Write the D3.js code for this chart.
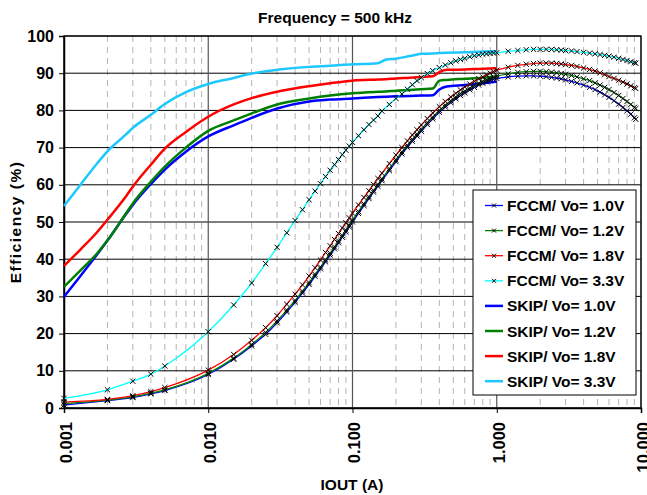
<!DOCTYPE html>
<html>
<head>
<meta charset="utf-8">
<script src="https://cdn.jsdelivr.net/npm/d3@7"></script>
<style>
	body { margin: 0; background: #fff; }
	svg { font-family: "Liberation Sans", Arial, sans-serif; font-weight: bold; }
</style>
</head>
<body>
<div class="container"></div>
<script>

// load current (A) of the forced-CCM sweep, shared by the four FCCM series
const fccmCurrent = [
	0.001, 0.002, 0.003, 0.004, 0.005,
	0.01, 0.015, 0.02, 0.025, 0.03, 0.035, 0.04, 0.045, 0.05, 0.055, 0.06, 0.065, 0.07, 0.075, 0.08, 0.085, 0.09, 0.095,
	0.1, 0.11, 0.12, 0.13, 0.14, 0.15, 0.16, 0.18, 0.2, 0.22, 0.24, 0.26, 0.28, 0.3, 0.33, 0.36, 0.4, 0.44, 0.48, 0.52, 0.56, 0.6, 0.65, 0.7, 0.75, 0.8, 0.85, 0.9, 0.95, 1.0,
	1.2, 1.4, 1.6, 1.8, 2.0, 2.2, 2.4, 2.6, 2.8, 3.0, 3.3, 3.6, 4.0, 4.4, 4.8, 5.2, 5.6, 6.0, 6.5, 7.0, 7.5, 8.0, 8.5, 9.0, 9.2
];

const fccm10 = [
	0.8, 2.0, 2.8, 3.8, 4.7,
	9.0, 13.1, 16.7, 19.8, 22.9, 25.8, 28.4, 30.9, 33.2, 35.4, 37.4, 39.3, 41.1, 42.8, 44.4, 45.9, 47.3, 48.7,
	50.0, 52.3, 54.4, 56.3, 58.0, 59.6, 61.1, 63.8, 66.2, 68.3, 70.1, 71.7, 73.1, 74.4, 76.2, 77.7, 79.5, 80.9, 82.1, 83.1, 84.0, 84.7, 85.5, 86.2, 86.8, 87.3, 87.7, 88.1, 88.4, 88.6,
	89.0, 89.2, 89.3, 89.3, 89.2, 89.1, 88.9, 88.7, 88.5, 88.2, 87.8, 87.4, 86.8, 86.2, 85.6, 84.9, 84.2, 83.5, 82.6, 81.7, 80.8, 79.9, 79.0, 78.0, 77.6
];

const fccm12 = [
	1.2, 2.1, 3.0, 4.0, 4.9,
	9.3, 13.4, 17.1, 20.3, 23.4, 26.3, 28.9, 31.4, 33.7, 35.9, 37.9, 39.8, 41.6, 43.3, 44.9, 46.4, 47.8, 49.2,
	50.5, 52.8, 54.9, 56.8, 58.5, 60.1, 61.6, 64.3, 66.7, 68.8, 70.6, 72.2, 73.6, 74.9, 76.7, 78.2, 80.0, 81.4, 82.6, 83.6, 84.5, 85.2, 86.0, 86.7, 87.3, 87.8, 88.2, 88.6, 88.9, 89.2,
	89.8, 90.2, 90.4, 90.5, 90.5, 90.4, 90.3, 90.1, 89.9, 89.7, 89.4, 89.0, 88.5, 88.0, 87.4, 86.8, 86.2, 85.6, 84.8, 84.0, 83.2, 82.4, 81.6, 80.8, 80.5
];

const fccm18 = [
	1.6, 2.3, 3.3, 4.4, 5.5,
	10.2, 14.4, 18.2, 21.6, 24.8, 27.9, 30.6, 33.1, 35.5, 37.7, 39.8, 41.8, 43.6, 45.3, 46.9, 48.4, 49.8, 51.1,
	52.4, 54.6, 56.6, 58.4, 60.1, 61.7, 63.1, 65.7, 68.0, 70.0, 71.8, 73.4, 74.8, 76.1, 77.8, 79.3, 81.0, 82.4, 83.6, 84.6, 85.5, 86.3, 87.1, 87.8, 88.5, 89.0, 89.5, 90.0, 90.4, 90.8,
	91.6, 92.1, 92.4, 92.6, 92.7, 92.7, 92.7, 92.6, 92.5, 92.3, 92.1, 91.8, 91.4, 91.0, 90.6, 90.1, 89.6, 89.1, 88.6, 88.1, 87.6, 87.1, 86.6, 86.1, 85.9
];

const fccm33 = [
	2.6, 4.9, 7.2, 9.1, 11.3,
	20.5, 27.7, 33.6, 38.8, 43.2, 47.1, 50.4, 53.3, 56.0, 58.3, 60.3, 62.2, 63.9, 65.4, 66.8, 68.1, 69.3, 70.4,
	71.4, 73.2, 74.8, 76.2, 77.4, 78.5, 79.8, 81.6, 83.2, 84.4, 85.7, 86.9, 88.0, 88.8, 89.9, 90.7, 91.5, 92.2, 92.8, 93.3, 93.7, 94.0, 94.4, 94.7, 94.9, 95.1, 95.2, 95.3, 95.4, 95.5,
	95.9, 96.1, 96.3, 96.4, 96.4, 96.4, 96.4, 96.3, 96.2, 96.1, 96.0, 95.8, 95.6, 95.4, 95.2, 95.0, 94.8, 94.6, 94.3, 94.0, 93.7, 93.4, 93.1, 92.8, 92.7
];

// load current (A) of the skip-mode sweep
const skipCurrent = [0.001, 0.0013, 0.0017, 0.002, 0.0027, 0.003, 0.004, 0.005, 0.007, 0.01, 0.015, 0.02, 0.03, 0.05, 0.07, 0.1, 0.15, 0.17, 0.2, 0.25, 0.3, 0.36, 0.4, 0.45, 0.6, 0.8, 1.0];

const skip10 = [29.9, 35.5, 41.3, 45.0, 52.2, 54.6, 60.2, 64.1, 68.9, 73.0, 76.0, 78.0, 80.5, 82.4, 82.9, 83.2, 83.6, 83.7, 83.8, 83.9, 84.0, 84.1, 85.6, 86.4, 86.8, 87.3, 87.7];
const skip12 = [32.6, 37.0, 41.6, 45.0, 52.4, 55.0, 60.8, 64.9, 70.0, 74.5, 77.3, 79.2, 81.6, 83.2, 84.0, 84.6, 85.0, 85.1, 85.3, 85.5, 85.7, 85.9, 88.0, 88.2, 88.5, 88.8, 89.1];
const skip18 = [38.2, 42.6, 47.3, 50.6, 57.0, 59.5, 65.4, 69.7, 74.2, 78.3, 81.6, 83.3, 85.0, 86.5, 87.3, 88.0, 88.3, 88.4, 88.6, 88.8, 89.0, 89.2, 90.3, 90.9, 91.0, 91.2, 91.3];
const skip33 = [54.3, 60.0, 65.8, 69.0, 73.6, 75.3, 78.8, 81.7, 84.9, 87.1, 88.7, 89.9, 90.9, 91.7, 92.0, 92.4, 92.7, 93.6, 93.9, 94.6, 95.2, 95.3, 95.4, 95.5, 95.6, 95.8, 95.9];

const seriesNames = [
	"FCCM/ Vo= 1.0V", "FCCM/ Vo= 1.2V", "FCCM/ Vo= 1.8V", "FCCM/ Vo= 3.3V",
	"SKIP/ Vo= 1.0V", "SKIP/ Vo= 1.2V", "SKIP/ Vo= 1.8V", "SKIP/ Vo= 3.3V"
];

const xTicks = [0.001, 0.01, 0.1, 1, 10];
const yTicks = [0, 10, 20, 30, 40, 50, 60, 70, 80, 90, 100];

const chartTitle = "Frequency = 500 kHz";
const xTitle = "IOUT (A)";
const yTitle = "Efficiency (%)";


const frame = { width: 647, height: 495, left: 64, top: 36, right: 641, bottom: 408 };

const series = [
	{ name: seriesNames[0], current: fccmCurrent, values: fccm10, color: "#0000ff", marked: true },
	{ name: seriesNames[1], current: fccmCurrent, values: fccm12, color: "#008000", marked: true },
	{ name: seriesNames[2], current: fccmCurrent, values: fccm18, color: "#ff0000", marked: true },
	{ name: seriesNames[3], current: fccmCurrent, values: fccm33, color: "#00ffff", marked: true },
	{ name: seriesNames[4], current: skipCurrent, values: skip10, color: "#0000ff", marked: false },
	{ name: seriesNames[5], current: skipCurrent, values: skip12, color: "#008000", marked: false },
	{ name: seriesNames[6], current: skipCurrent, values: skip18, color: "#ff0000", marked: false },
	{ name: seriesNames[7], current: skipCurrent, values: skip33, color: "#1ec8ff", marked: false }
];

const x = d3.scaleLog()
			.domain([0.001, 10])
			.range([frame.left, frame.right]);

const y = d3.scaleLinear()
			.domain([0, 100])
			.range([frame.bottom, frame.top]);

const svg = d3.select(".container")
			.append("svg")
				.attr("width", frame.width)
				.attr("height", frame.height);

svg.append("rect")
	.attr("width", frame.width)
	.attr("height", frame.height)
	.attr("fill", "#fff");

// minor (dashed) and major (solid) vertical grid
const minorGrid = [];
xTicks.slice(0, -1).forEach(decade => {
	for (let m = 2; m <= 9; m++) minorGrid.push(decade * m);
});

svg.append("g")
	.selectAll("line")
	.data(minorGrid)
		.enter()
	.append("line")
		.attr("x1", d => x(d))
		.attr("x2", d => x(d))
		.attr("y1", frame.top)
		.attr("y2", frame.bottom)
		.attr("stroke", "#b4b4b4")
		.attr("stroke-width", 1)
		.attr("stroke-dasharray", "6,5");

svg.append("g")
	.selectAll("line")
	.data(yTicks)
		.enter()
	.append("line")
		.attr("x1", frame.left)
		.attr("x2", frame.right)
		.attr("y1", d => y(d))
		.attr("y2", d => y(d))
		.attr("stroke", "#000")
		.attr("stroke-width", 1);

svg.append("g")
	.selectAll("line")
	.data(xTicks)
		.enter()
	.append("line")
		.attr("x1", d => x(d))
		.attr("x2", d => x(d))
		.attr("y1", frame.top)
		.attr("y2", frame.bottom)
		.attr("stroke", "#555")
		.attr("stroke-width", 1.2);

svg.append("rect")
	.attr("x", frame.left)
	.attr("y", frame.top)
	.attr("width", frame.right - frame.left)
	.attr("height", frame.bottom - frame.top)
	.attr("fill", "none")
	.attr("stroke", "#000")
	.attr("stroke-width", 1.2);

// axes
const yAxis = svg.append("g")
	.attr("transform", `translate(${ frame.left }, 0)`)
	.call(d3.axisLeft(y).tickValues(yTicks).tickSize(5).tickPadding(5));

yAxis.select(".domain").attr("stroke-width", 1.5);
yAxis.selectAll("text")
	.attr("font-size", 16)
	.attr("font-family", "Liberation Sans, Arial, sans-serif")
	.attr("font-weight", "bold")
	.attr("fill", "#000");

const xAxis = svg.append("g")
	.attr("transform", `translate(0, ${ frame.bottom })`)
	.call(d3.axisBottom(x).tickValues(xTicks).tickFormat(d3.format(".3f")).tickSize(5));

xAxis.select(".domain").attr("stroke-width", 1.5);
xAxis.selectAll("text")
	.attr("font-size", 16.5)
	.attr("font-family", "Liberation Sans, Arial, sans-serif")
	.attr("font-weight", "bold")
	.attr("fill", "#000")
	.attr("transform", "rotate(-90)")
	.attr("text-anchor", "end")
	.attr("x", -14)
	.attr("y", 0)
	.attr("dy", "0.45em");

// titles
svg.append("text")
	.text(chartTitle)
	.attr("x", 335)
	.attr("y", 23)
	.attr("text-anchor", "middle")
	.attr("font-size", 15.5);

svg.append("text")
	.text(xTitle)
	.attr("x", 352)
	.attr("y", 490)
	.attr("text-anchor", "middle")
	.attr("font-size", 15.5);

svg.append("text")
	.text(yTitle)
	.attr("transform", `translate(21, ${ (frame.top + frame.bottom) / 2 }) rotate(-90)`)
	.attr("text-anchor", "middle")
	.attr("letter-spacing", "1.5px")
	.attr("font-size", 15.5);

// curves
const points = s => s.current.map((c, i) => [c, s.values[i]]);

const smoothLine = d3.line()
	.x(d => x(d[0]))
	.y(d => y(d[1]))
	.curve(d3.curveMonotoneX);

const skipSeries = series.filter(s => !s.marked);
const fccmSeries = series.filter(s => s.marked);

svg.append("g")
	.selectAll("path")
	.data(skipSeries)
		.enter()
	.append("path")
		.attr("d", s => smoothLine(points(s)))
		.attr("fill", "none")
		.attr("stroke", s => s.color)
		.attr("stroke-width", 2.5)
		.attr("stroke-linejoin", "round");

svg.append("g")
	.selectAll("path")
	.data(fccmSeries)
		.enter()
	.append("path")
		.attr("d", s => smoothLine(points(s)))
		.attr("fill", "none")
		.attr("stroke", s => s.color)
		.attr("stroke-width", 1.3);

const cross = (cx, cy, r) => `M${ cx - r },${ cy - r }L${ cx + r },${ cy + r }M${ cx - r },${ cy + r }L${ cx + r },${ cy - r }`;

svg.append("g")
	.selectAll("path")
	.data(fccmSeries.flatMap(points))
		.enter()
	.append("path")
		.attr("d", d => cross(x(d[0]), y(d[1]), 2.6))
		.attr("stroke", "#000")
		.attr("stroke-width", 1);

// legend
const legend = svg.append("g")
	.attr("transform", "translate(473, 190)");

legend.append("rect")
	.attr("width", 163)
	.attr("height", 205)
	.attr("fill", "#fff")
	.attr("stroke", "#000")
	.attr("stroke-width", 1);

const items = legend.selectAll("g.item")
	.data(series)
		.enter()
	.append("g")
		.attr("class", "item")
		.attr("transform", (s, i) => `translate(0, ${ 15.5 + i * 25.1 })`);

items.append("line")
	.attr("x1", 12)
	.attr("x2", 30)
	.attr("stroke", s => s.color)
	.attr("stroke-width", s => s.marked ? 1.3 : 2.5);

items.filter(s => s.marked)
	.append("path")
		.attr("d", cross(21, 0, 2))
		.attr("stroke", "#000")
		.attr("stroke-width", 1);

items.append("text")
	.text(s => s.name)
	.attr("x", 34)
	.attr("dy", "0.36em")
	.attr("font-size", 15.5);

</script>
</body>
</html>
